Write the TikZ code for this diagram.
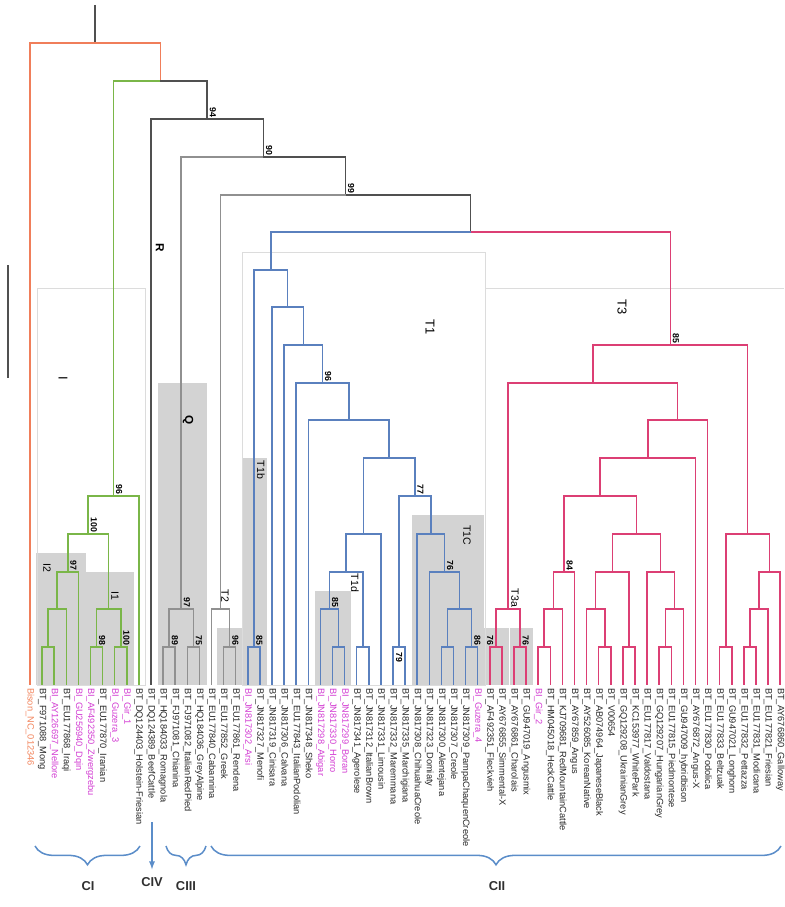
\documentclass[tikz,border=0pt]{standalone}
\usepackage{fontspec}
\setmainfont{Liberation Sans}
\usetikzlibrary{decorations.pathreplacing}

\begin{document}
\begin{tikzpicture}[x=0.03cm, y=-0.03cm, line width=1.3pt,
    leaf/.style={rotate=-90, anchor=west, inner sep=1pt, font=\fontsize{7.9}{9}\selectfont},
    boot/.style={rotate=-90, inner sep=1pt, font=\fontsize{7.5}{8}\selectfont\bfseries},
    clade/.style={rotate=-90, font=\fontsize{11}{12}\selectfont},
    subclade/.style={rotate=-90, font=\fontsize{9}{10}\selectfont},
    shade/.style={fill=shadeColour, draw=none},
    outline/.style={draw=boxColour, line width=0.7pt},
    brace/.style={draw=braceColour, line width=1.3pt, decorate, decoration={brace, mirror, amplitude=16pt}},
    group/.style={font=\fontsize{11}{12}\selectfont\bfseries, text=labelColour}]
    % Define colours
    \definecolor{orangeColour}{HTML}{F07E5A}
    \definecolor{greenColour}{HTML}{7AB648}
    \definecolor{blueColour}{HTML}{5A80BE}
    \definecolor{redColour}{HTML}{DC3F74}
    \definecolor{darkColour}{HTML}{505050}
    \definecolor{greyColour}{HTML}{909090}
    \definecolor{shadeColour}{HTML}{D3D3D3}
    \definecolor{boxColour}{HTML}{DCDCDC}
    \definecolor{magentaColour}{HTML}{D23CD2}
    \definecolor{bisonColour}{HTML}{F2845C}
    \definecolor{textColour}{HTML}{262626}
    \definecolor{braceColour}{HTML}{5B8DC9}
    \definecolor{labelColour}{HTML}{303030}

    % Define leaf spacing
    \def\leafStart{30}
    \def\leafStep{12.1}
    \def\tipY{685}

    \useasboundingbox (0,0) rectangle (784,907);

    % Draw clade boxes
    \fill[shade] (36,553) rectangle (86,685);
    \fill[shade] (86,572) rectangle (134,685);
    \fill[shade] (158,383) rectangle (207,685);
    \fill[shade] (217,628) rectangle (242,685);
    \fill[shade] (242,458) rectangle (267,685);
    \fill[shade] (315,591) rectangle (351,685);
    \fill[shade] (412,515) rectangle (484,685);
    \fill[shade] (484,628) rectangle (508.5,685);
    \fill[shade] (509.5,628) rectangle (533,685);
    \draw[outline] (37,288) rectangle (145,685);
    \draw[outline] (242,252) rectangle (485,685);
    \draw[outline] (485,685) |- (784,288);

    % Draw scale bar
    \draw[darkColour] (8,265) -- (8,378);

    % Leaves and their labels
    \foreach \lab/\col [count=\i] in {Bison\_NC\_012346/bisonColour, BT\_F971088\_Mong/textColour,
        BI\_AY126697\_Nellore/magentaColour, BT\_EU177868\_Iraqi/textColour,
        BI\_GU256940\_Dqin/magentaColour, BI\_AF492350\_Zwergzebu/magentaColour,
        BT\_EU177870\_Iranian/textColour, BI\_Guzera\_3/magentaColour, BI\_Gir\_1/magentaColour,
        BT\_DQ124403\_Holstein-Friesian/textColour, BT\_DQ124389\_BeefCattle/textColour,
        BT\_HQ184033\_Romagnola/textColour, BT\_FJ971081\_Chianina/textColour,
        BT\_FJ971082\_ItalianRedPied/textColour, BT\_HQ184036\_GreyAlpine/textColour,
        BT\_EU177840\_Cabannina/textColour, BT\_EU177852\_Greek/textColour,
        BT\_EU177861\_Rendena/textColour, BI\_JN817302\_Arsi/magentaColour,
        BT\_JN817327\_Menofi/textColour, BT\_JN817319\_Cinisara/textColour,
        BT\_JN817306\_Calvana/textColour, BT\_EU177843\_ItalianPodolian/textColour,
        BT\_JN817348\_Sheko/textColour, BI\_JN817298\_Abigar/magentaColour,
        BI\_JN817330\_Horro/magentaColour, BI\_JN817299\_Boran/magentaColour,
        BT\_JN817341\_Agerolese/textColour, BT\_JN817312\_ItalianBrown/textColour,
        BT\_JN817331\_Limousin/textColour, BT\_JN817332\_Maremmana/textColour,
        BT\_JN817335\_Marchigiana/textColour, BT\_JN817308\_ChihuahuaCreole/textColour,
        BT\_JN817323\_Domiaty/textColour, BT\_JN817300\_Alentejana/textColour,
        BT\_JN817307\_Creole/textColour, BT\_JN817309\_PampaChaquenCreole/textColour,
        BI\_Guzera\_4/magentaColour, BT\_AF492351\_Fleckvieh/textColour,
        BT\_AY676855\_Simmental-X/textColour, BT\_AY676861\_Charolais/textColour,
        BT\_GU947019\_Angusmix/textColour, BI\_Gir\_2/magentaColour,
        BT\_HM045018\_HeckCattle/textColour, BT\_KJ709681\_RedMountainCattle/textColour,
        BT\_AY67859\_Angus/textColour, BT\_AY526085\_KoreanNative/textColour,
        BT\_AB074964\_JapaneseBlack/textColour, BT\_V00654/textColour,
        BT\_GQ129208\_UkrainianGrey/textColour, BT\_KC153977\_WhitePark/textColour,
        BT\_EU177817\_Valdostana/textColour, BT\_GQ129207\_HungarianGrey/textColour,
        BT\_EU177815\_Piedmontese/textColour, BT\_GU947009\_hybridbison/textColour,
        BT\_AY676872\_Angus-X/textColour, BT\_EU177830\_Podolica/textColour,
        BT\_EU177833\_Beltzuak/textColour, BT\_GU947021\_Longhorn/textColour,
        BT\_EU177832\_Pettazza/textColour, BT\_EU177831\_Modicana/textColour,
        BT\_EU177821\_Friesian/textColour, BT\_AY676860\_Galloway/textColour} {
        \coordinate (t\i) at ({\leafStart+\leafStep*(\i-1)},\tipY);
        \node[leaf, text=\col] (l\i) at ([yshift=-1pt]t\i) {\lab};
    }

    % Define inner nodes (backbone)
    \coordinate (root) at (95.2,5);
    \coordinate (n17) at (95.2,43);
    \coordinate (n16) at (160.4,81);
    \coordinate (n15) at (207.2,119);
    \coordinate (n14) at (263.4,157);
    \coordinate (n13) at (345.55,195);
    \coordinate (n12) at (470.5,232);

    % Define inner nodes of I
    \coordinate (nI) at (113.55,496);
    \coordinate (nI12) at (88.2,534);
    \coordinate (nI2) at (67.8,572);
    \coordinate (c2) at (57.2,609);
    \coordinate (c1) at (48.15,647);
    \coordinate (nI1) at (108.65,609);
    \coordinate (c3) at (96.55,647);
    \coordinate (c4) at (120.75,647);

    % Define inner nodes of Q and T2
    \coordinate (nQ) at (181.25,609);
    \coordinate (q1) at (169.15,647);
    \coordinate (q2) at (193.35,647);
    \coordinate (nT2) at (220.6,609);
    \coordinate (t2a) at (229.65,647);

    % Define inner nodes of T1
    \coordinate (mb) at (270.75,270);
    \coordinate (b1) at (253.85,647);
    \coordinate (mm) at (287.65,307);
    \coordinate (m0) at (303.3,345);
    \coordinate (m1) at (322.5,383);
    \coordinate (m2) at (348.75,420);
    \coordinate (m3) at (389.2,458);
    \coordinate (d5) at (363.5,534);
    \coordinate (d4) at (346.1,572);
    \coordinate (d2) at (329.5,609);
    \coordinate (d1) at (338.55,647);
    \coordinate (d3) at (362.75,647);
    \coordinate (m4) at (414.9,496);
    \coordinate (m10) at (399.05,647);
    \coordinate (m5) at (430.8,534);
    \coordinate (m6) at (444.4,572);
    \coordinate (m7) at (459.55,609);
    \coordinate (m8) at (447.45,647);
    \coordinate (m9) at (471.65,647);

    % Define inner nodes of T3
    \coordinate (nT3) at (670.25,345);
    \coordinate (r17) at (592.8,383);
    \coordinate (nT3a) at (507.95,609);
    \coordinate (r1) at (495.85,647);
    \coordinate (r2) at (520.05,647);
    \coordinate (r16) at (677.7,420);
    \coordinate (r15) at (647.85,458);
    \coordinate (r14) at (600.2,496);
    \coordinate (r5) at (563.9,572);
    \coordinate (r4) at (553.3,609);
    \coordinate (r3) at (544.25,647);
    \coordinate (r13) at (636.5,534);
    \coordinate (r9) at (612.3,572);
    \coordinate (r7) at (595.7,609);
    \coordinate (r6) at (604.75,647);
    \coordinate (r8) at (628.95,647);
    \coordinate (r12) at (660.7,572);
    \coordinate (r11) at (674.3,609);
    \coordinate (r10) at (665.25,647);
    \coordinate (g5) at (747.7,534);
    \coordinate (g1) at (725.75,647);
    \coordinate (g4) at (769.6,572);
    \coordinate (g3) at (759,609);
    \coordinate (g2) at (749.95,647);

    % Draw branches
    \draw[darkColour] (root) -- (n17);
    \foreach \p/\c in {n17/t1, n17/n16}
        \draw[orangeColour] (\p) -| (\c);
    \foreach \p/\c in {n16/n15, n15/t11, n15/n14, n14/n13, n13/n12}
        \draw[darkColour] (\p) -| (\c);
    \foreach \p/\c in {n16/nI, nI/nI12, nI/t10, nI12/nI2, nI12/nI1, nI2/c2, nI2/t5, c2/c1, c2/t4,
        c1/t2, c1/t3, nI1/c3, nI1/c4, c3/t6, c3/t7, c4/t8, c4/t9}
        \draw[greenColour] (\p) -| (\c);
    \foreach \p/\c in {n14/nQ, nQ/q1, nQ/q2, q1/t12, q1/t13, q2/t14, q2/t15,
        n13/nT2, nT2/t16, nT2/t2a, t2a/t17, t2a/t18}
        \draw[greyColour] (\p) -| (\c);
    \foreach \p/\c in {n12/mb, mb/b1, mb/mm, b1/t19, b1/t20, mm/t21, mm/m0, m0/t22, m0/m1,
        m1/t23, m1/m2, m2/t24, m2/m3, m3/d5, m3/m4, d5/d4, d5/t30, d4/d2, d4/d3, d2/t25, d2/d1,
        d1/t26, d1/t27, d3/t28, d3/t29, m4/m10, m4/m5, m10/t31, m10/t32, m5/t33, m5/m6,
        m6/t34, m6/m7, m7/m8, m7/m9, m8/t35, m8/t36, m9/t37, m9/t38}
        \draw[blueColour] (\p) -| (\c);
    \foreach \p/\c in {n12/nT3, nT3/r17, nT3/g5, r17/nT3a, r17/r16, nT3a/r1, nT3a/r2,
        r1/t39, r1/t40, r2/t41, r2/t42, r16/r15, r16/t57, r15/r14, r15/t56, r14/r5, r14/r13,
        r5/r4, r5/t46, r4/r3, r4/t45, r3/t43, r3/t44, r13/r9, r13/r12, r9/r7, r9/r8,
        r7/t47, r7/r6, r6/t48, r6/t49, r8/t50, r8/t51, r12/t52, r12/r11, r11/r10, r11/t55,
        r10/t53, r10/t54, g5/g1, g5/g4, g1/t58, g1/t59, g4/g3, g4/t63, g3/g2, g3/t62,
        g2/t60, g2/t61}
        \draw[redColour] (\p) -| (\c);

    % Bootstrap values
    \foreach \n/\v in {n15/94, n14/90, n13/99, nI/96, nI12/100, nI2/97, c3/98, c4/100,
        nQ/97, q1/89, q2/75, t2a/96, b1/85, m1/96, m4/77, d2/85, m6/76, m9/86, r2/76,
        r5/84, nT3/85}
        \node[boot, anchor=south east] (bs\n) at ([xshift=0.5pt]\n) {\v};
    \node[boot, anchor=north east] (bsr1) at ([xshift=-0.5pt]r1) {76};
    \node[boot, anchor=west] (bsm10) at ([yshift=-3pt]m10) {79};

    % Label the clades
    \node[clade] (cladeI) at (63,378) {I};
    \node[clade] (cladeT1) at (430,327) {T1};
    \node[clade] (cladeT3) at (622,307) {T3};
    \node[subclade, font=\fontsize{10}{11}\selectfont\bfseries] (cladeR) at (160,248) {R};
    \node[subclade, font=\fontsize{10}{11}\selectfont\bfseries] (cladeQ) at (188,420) {Q};
    \node[subclade] (cladeI2) at (47,568) {I2};
    \node[subclade] (cladeI1) at (115,596) {I1};
    \node[subclade] (cladeT2) at (225,596) {T2};
    \node[subclade] (cladeT1b) at (261,470) {T1b};
    \node[subclade] (cladeT1d) at (355,583) {T1d};
    \node[subclade] (cladeT1C) at (467,535) {T1C};
    \node[subclade] (cladeT3a) at (515,598) {T3a};

    % Draw the groups below the labels
    \node[group] (ci) at (88,886) {CI};
    \node[group] (civ) at (152,882) {CIV};
    \node[group] (ciii) at (186,886) {CIII};
    \node[group] (cii) at (497,886) {CII};
    \draw[brace] (35,846) -- (140,846);
    \draw[brace] (166,846) -- (206,846);
    \draw[brace] (211,846) -- (781,846);
    \coordinate (civTop) at (152,822);
    \draw[braceColour, line width=1.3pt, ->, >=latex] (civTop) -- ([yshift=3pt]civ.north);

\end{tikzpicture}
\end{document}
